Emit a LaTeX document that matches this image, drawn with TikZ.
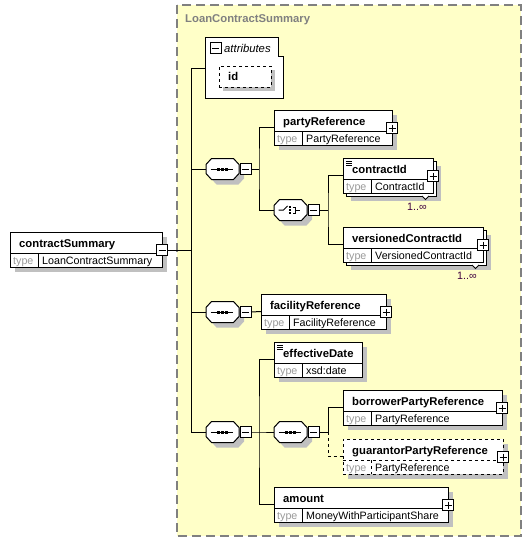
\documentclass[tikz,border=0pt]{standalone}
\usepackage{fontspec}
\setmainfont{Liberation Sans}
\definecolor{bgy}{HTML}{FFFFC8}
\definecolor{shadowg}{HTML}{C0C0C0}
\definecolor{typeg}{HTML}{999999}
\definecolor{bordg}{HTML}{808080}
\definecolor{occ}{HTML}{400040}
\tikzset{
  shadowc/.style={fill=shadowg},
  elbox/.style={draw=black, fill=white, line width=1pt, inner sep=0pt, outer sep=0pt, anchor=north west, minimum height=35pt},
  namet/.style={font=\fontsize{11.3}{13}\selectfont\bfseries, anchor=base west, inner sep=0pt},
  typek/.style={font=\fontsize{10.7}{12}\selectfont, text=typeg, anchor=base west, inner sep=0pt},
  typev/.style={font=\fontsize{10.7}{12}\selectfont, anchor=base west, inner sep=0pt},
  occt/.style={font=\fontsize{10.7}{12}\selectfont, text=occ, inner sep=0pt},
  iconbox/.style={draw=black, fill=white, line width=1pt, minimum size=11pt, inner sep=0pt, outer sep=0pt},
  minusbox/.style={iconbox, path picture={\draw[line width=1pt] ([xshift=2pt]path picture bounding box.west) -- ([xshift=-2pt]path picture bounding box.east);}},
  plusbox/.style={iconbox, path picture={\draw[line width=1pt] ([xshift=2pt]path picture bounding box.west) -- ([xshift=-2pt]path picture bounding box.east) ([yshift=-2pt]path picture bounding box.north) -- ([yshift=2pt]path picture bounding box.south);}},
  conn/.style={line width=1pt},
}
% element box without shadow: id, x, y, w, name, type, style
\newcommand\elem[7]{%
  \node[elbox,#7,minimum width=#4pt] (#1) at (#2,#3) {};
  \draw[line width=1pt,#7] (#2,#3+21) -- ++(#4,0) (#2+28,#3+21) -- ++(0,14);
  \node[namet] at (#2+9,#3+15) {#5};
  \node[typek] at (#2+3,#3+32) {type};
  \node[typev] at (#2+32,#3+32) {#6};
}
\newcommand\shadowbox[4]{\fill[shadowc] (#1+#4,#2+#4) rectangle ++(#3,35);}
\newcommand\plusicon[1]{\node[plusbox] (#1p) at ([yshift=-18pt]#1.north east) {};}
\newcommand\docicon[2]{\draw[line width=0.8pt] (#1+3,#2+3) -- ++(6,0) (#1+3,#2+5) -- ++(6,0) (#1+3,#2+7) -- ++(6,0);}
\newcommand\octa{(-16.5,-4.5) -- (-11,-10.5) -- (11,-10.5) -- (16.5,-4.5) -- (16.5,4.5) -- (11,10.5) -- (-11,10.5) -- (-16.5,4.5) -- cycle}
% compositor: id, cx, cy, kind (s or c)
\newcommand\compo[4]{%
  \begin{scope}[shift={(#2,#3)}]
    \fill[shadowc] [shift={(5,5)}] \octa;
    \draw[line width=1pt, fill=white] \octa;
    \node[inner sep=0pt, outer sep=0pt, minimum width=33pt, minimum height=21pt] (#1) at (0,0) {};
    \ifx s#4
      \draw[line width=1pt] (-12,0) -- (10,0);
      \foreach \d in {-4.5,-0.5,3.5} \fill (\d-1.5,-1.5) rectangle (\d+1.5,1.5);
    \else
      \draw[line width=1pt] (-12,0) -- (-7,0) -- (-3,-4);
      \foreach \d in {-3,0,3} \fill (-1.5,\d-1) rectangle (0.5,\d+1);
      \draw[line width=1pt] (2,-3) -- (5,-3) -- (5,3) -- (2,3) (5,0) -- (9,0);
    \fi
    \node[minusbox] (#1m) at (23,0) {};
  \end{scope}}
\begin{document}
\begin{tikzpicture}[x=1pt,y=-1pt]
\useasboundingbox (0,0) rectangle (531,543);
% complex type area
\draw[bordg, fill=bgy, line width=1.2pt, dash pattern=on 9pt off 5pt] (177,5) rectangle (521,536);
\node[font=\fontsize{11.3}{13}\selectfont\bfseries, text=bordg, anchor=base west, inner sep=0pt] (title) at (185,23) {LoanContractSummary};

% root element
\shadowbox{10}{232}{152}{5}
\elem{cs}{10}{232}{152}{contractSummary}{LoanContractSummary}{}
\node[minusbox] (csm) at ([yshift=-18pt]cs.north east) {};

% attributes
\node[inner sep=0pt, outer sep=0pt, minimum width=78pt, minimum height=60pt] (attr) at (244,68) {};
\draw[line width=1pt, fill=white] (205,38) -- (278,38) -- (278,57) -- (283,57) -- (283,98) -- (205,98) -- cycle;
\node[minusbox] (attrm) at (215.5,48.5) {};
\node[font=\fontsize{11.3}{13}\selectfont\itshape, anchor=base west, inner sep=0pt] (attrt) at (224,52.5) {attributes};
\fill[shadowc] (223,70) rectangle (275,91);
\node[draw=black, fill=white, line width=1pt, dashed, inner sep=0pt, outer sep=0pt, anchor=north west, minimum width=52pt, minimum height=21pt] (idb) at (219,66) {};
\node[namet] (idt) at (228,80.5) {id};

% compositors
\compo{s1}{222.5}{169}{s}
\compo{ch}{290.5}{210}{c}
\compo{s2}{222.5}{312}{s}
\compo{s3}{222.5}{432}{s}
\compo{s4}{290.5}{432}{s}

% elements
\shadowbox{274}{110}{118}{5}
\elem{pr}{274}{110}{118}{partyReference}{PartyReference}{}
\plusicon{pr}

\fill[shadowc] (351,166) rectangle ++(90,35);
\draw[line width=1pt, fill=white] (346,161) rectangle ++(90,35);
\draw[line width=1pt, fill=white] (422,196) -- (425.5,199.5) -- (429,196);
\elem{cid}{343}{158}{90}{contractId}{ContractId}{}
\docicon{343}{158}
\plusicon{cid}
\node[occt] (cido) at (417,207) {1..∞};

\fill[shadowc] (351,235) rectangle ++(140,35);
\draw[line width=1pt, fill=white] (346,230) rectangle ++(140,35);
\draw[line width=1pt, fill=white] (472,265) -- (475.5,268.5) -- (479,265);
\elem{vcid}{343}{227}{140}{versionedContractId}{VersionedContractId}{}
\plusicon{vcid}
\node[occt] (vcido) at (467,276) {1..∞};

\shadowbox{261}{294}{125}{5}
\elem{fr}{261}{294}{125}{facilityReference}{FacilityReference}{}
\plusicon{fr}

\shadowbox{274}{342}{88}{5}
\elem{ed}{274}{342}{88}{effectiveDate}{xsd:date}{}
\docicon{274}{342}

\shadowbox{343}{390}{159}{5}
\elem{bp}{343}{390}{159}{borrowerPartyReference}{PartyReference}{}
\plusicon{bp}

\shadowbox{343}{439}{160}{5}
\elem{gp}{343}{439}{160}{guarantorPartyReference}{PartyReference}{dashed}
\plusicon{gp}

\shadowbox{274}{487}{174}{5}
\elem{am}{274}{487}{174}{amount}{MoneyWithParticipantShare}{}
\plusicon{am}

% junction coordinates
\coordinate (tr) at (191,250);
\coordinate (j1) at (259,169);
\coordinate (j2) at (328,210);
\coordinate (j3) at (259,432);
\coordinate (j4) at (328,432);

% connectors
\draw[conn] (csm.east) -- (tr);
\draw[conn] (attr.west) -- (attr.west -| tr) -- (s3.west -| tr) -- (s3.west);
\draw[conn] (s1.west -| tr) -- (s1.west);
\draw[conn] (s2.west -| tr) -- (s2.west);
\draw[conn] (s1m.east) -- (j1);
\draw[conn] (pr.west) -| (j1) |- (ch.west);
\draw[conn] (chm.east) -- (j2);
\draw[conn] (cid.west) -| (j2) |- (vcid.west);
\draw[conn] (s2m.east) -- (fr.west);
\draw[conn] (s3m.east) -- (j3) -- (s4.west);
\draw[conn] (ed.west) -| (j3) |- (am.west);
\draw[conn] (s4m.east) -- (j4);
\draw[conn] (bp.west) -| (j4);
\draw[conn, dashed] (j4) |- (gp.west);
\end{tikzpicture}
\end{document}
